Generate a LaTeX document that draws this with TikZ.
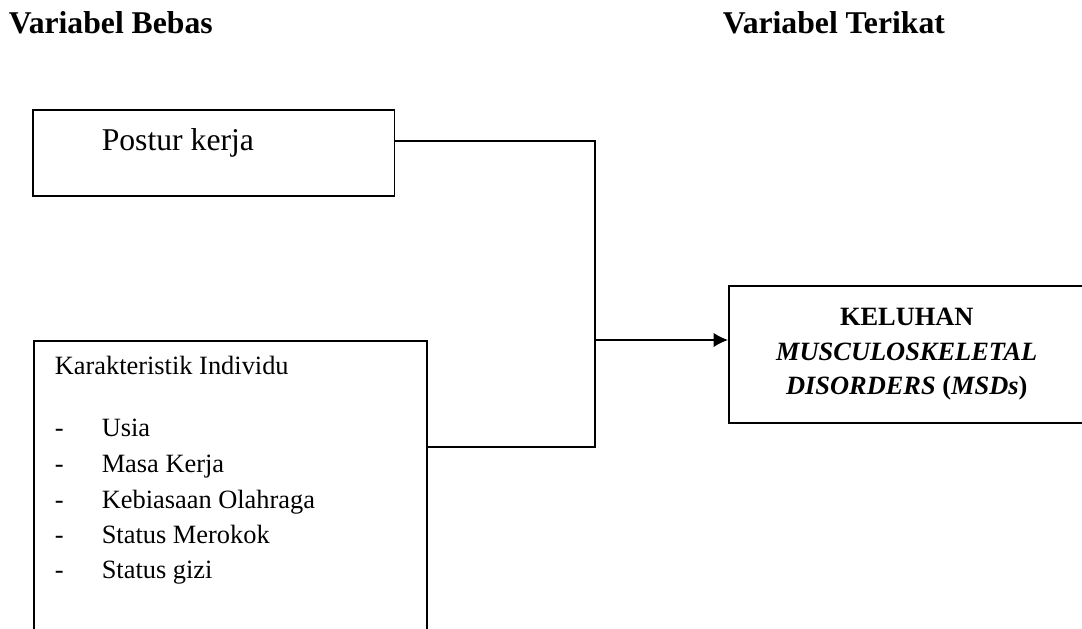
\documentclass[tikz,border=0pt]{standalone}
\usepackage{fontspec}
\setmainfont{Liberation Serif}
\usetikzlibrary{positioning}
\usetikzlibrary{arrows.meta}
\newcommand{\titleFont}{\fontsize{14.4}{17}\selectfont\bfseries}
\newcommand{\bodyFont}{\fontsize{12}{14}\selectfont}
\begin{document}
\begin{tikzpicture}[x=0.4545pt,y=-0.4545pt,line width=0.7pt,
    box/.style={shape=rectangle,draw=black,inner sep=0pt,anchor=north west},
    txt/.style={anchor=base west,inner sep=0pt,font=\bodyFont}]
    \useasboundingbox (0,0) rectangle (1082,628);
    \node[anchor=base west,inner sep=0pt,font=\titleFont] (bebas) at (8,33) {Variabel Bebas};
    \node[anchor=base west,inner sep=0pt,font=\titleFont] (terikat) at (722,33) {Variabel Terikat};

    \node[box,minimum width=164.5pt,minimum height=39.1pt] (postur) at (32,109) {};
    \node[anchor=base west,inner sep=0pt,font=\fontsize{14.4}{17}\selectfont] (posturText) at (101,150) {Postur kerja};

    \node[box,minimum width=178.6pt,minimum height=145.4pt] (indiv) at (33,340) {};
    \node[txt] (indivText) at (54,374) {Karakteristik Individu};
    \node[txt] (d1) at (54,436) {-};
    \node[txt] (usia) at (101,436) {Usia};
    \node[txt] (d2) at (54,472) {-};
    \node[txt] (masa) at (101,472) {Masa Kerja};
    \node[txt] (d3) at (54,508) {-};
    \node[txt] (olahraga) at (101,508) {Kebiasaan Olahraga};
    \node[txt] (d4) at (54,543) {-};
    \node[txt] (merokok) at (101,543) {Status Merokok};
    \node[txt] (d5) at (54,578) {-};
    \node[txt] (gizi) at (101,578) {Status gizi};

    \node[box,minimum width=161.8pt,minimum height=62.3pt,align=center,
      font=\fontsize{12}{15.7}\selectfont\bfseries] (keluhan) at (728,285)
      {KELUHAN\\\textit{MUSCULOSKELETAL}\\\textit{DISORDERS} (\textit{MSDs})};

    \coordinate (jTop) at (595,141);
    \coordinate (jMid) at (595,340);
    \coordinate (jBot) at (595,447);
    \draw (jTop -| postur.east) -- (jTop) -- (jBot) -- (jBot -| indiv.east);
    \draw [-{Latex[length=6.5pt,width=6.5pt]}] (jMid) -- (jMid -| keluhan.west);
\end{tikzpicture}
\end{document}
